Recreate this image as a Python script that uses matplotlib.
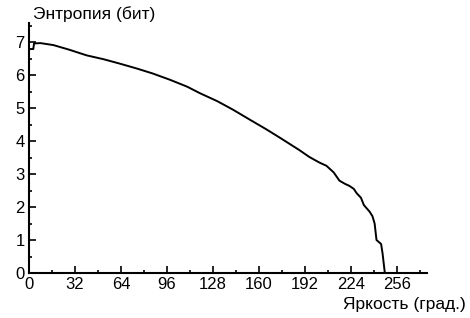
import matplotlib.pyplot as plt
from matplotlib.ticker import MultipleLocator

plt.rcParams['font.family'] = ['Liberation Sans', 'DejaVu Sans']

# brightness (grad.) and entropy (bits)
brightness = [0, 3, 3.5, 8, 17, 28, 40, 52, 63, 75, 86, 98, 110, 119, 131, 142,
              154, 165, 175, 188, 195, 202, 207, 212, 216, 220, 223, 226, 228,
              231, 233, 237, 239, 240.5, 241.8, 245, 246, 247.6]
entropy = [6.79, 6.79, 6.96, 6.97, 6.91, 6.77, 6.6, 6.48, 6.35, 6.2, 6.05, 5.86,
           5.65, 5.45, 5.21, 4.95, 4.64, 4.36, 4.09, 3.73, 3.52, 3.35, 3.25,
           3.05, 2.8, 2.7, 2.64, 2.55, 2.42, 2.28, 2.06, 1.86, 1.72, 1.5, 1.0,
           0.88, 0.6, 0.0]

fig = plt.figure(figsize=(4.7, 3.18), dpi=100)
ax = fig.add_axes([0.0617, 0.1415, 0.847, 0.7862])

ax.plot(brightness, entropy, color='black', lw=1.4)

ax.set_xlim(0, 277)
ax.set_ylim(0, 7.58)
ax.xaxis.set_major_locator(MultipleLocator(32))
ax.xaxis.set_minor_locator(MultipleLocator(16))
ax.yaxis.set_major_locator(MultipleLocator(1))
ax.yaxis.set_minor_locator(MultipleLocator(0.5))
ax.tick_params(which='major', direction='in', length=5, width=1.2,
               labelsize=12, pad=3)
ax.tick_params(which='minor', direction='in', length=2, width=1.2)

for s in ['top', 'right']:
    ax.spines[s].set_visible(False)
for s in ['left', 'bottom']:
    ax.spines[s].set_linewidth(1.5)

fig.text(33 / 470, 1 - 14 / 318, 'Энтропия (бит)', fontsize=12.5, va='center')
fig.text(466 / 470, 1 - 305 / 318, 'Яркость (град.)', fontsize=12.5,
         va='center', ha='right')

fig.savefig('out.png', dpi=100)
